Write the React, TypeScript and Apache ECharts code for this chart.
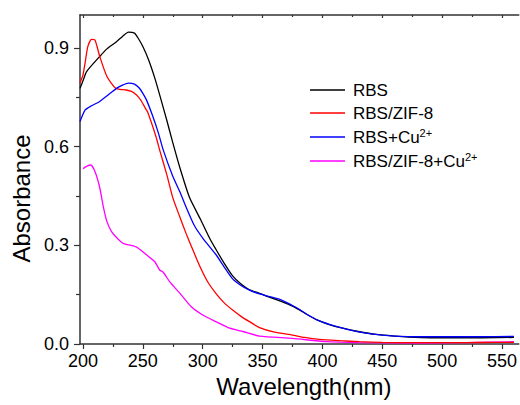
import React, { useEffect, useRef } from "react";
import * as echarts from "echarts";

// Wavelength (nm) / absorbance pairs
const rbsWl = [197.5, 200, 203, 214, 220, 228, 233, 238, 243, 246, 250, 255, 260, 265, 270, 275, 281, 289, 298, 306, 311, 318, 325, 332, 339, 347.5, 355, 365, 375, 381, 388, 395, 405, 417, 430, 445, 460, 472, 490, 510, 533, 560];
const rbsAbs = [0.777, 0.8, 0.828, 0.874, 0.897, 0.919, 0.935, 0.948, 0.945, 0.93, 0.904, 0.862, 0.808, 0.745, 0.68, 0.612, 0.535, 0.445, 0.38, 0.32, 0.288, 0.245, 0.207, 0.182, 0.165, 0.154, 0.143, 0.13, 0.115, 0.103, 0.088, 0.074, 0.06, 0.048, 0.038, 0.029, 0.024, 0.021, 0.019, 0.019, 0.019, 0.02];

const zifWl = [197.5, 200, 202, 204, 207, 210, 214, 220, 227, 231, 236, 240.5, 243, 246, 249, 252, 254, 261, 264, 270, 275, 281, 286, 290.5, 297.5, 304, 311, 318, 325, 332, 339, 347.5, 360, 375, 385, 397.5, 415, 431, 450, 480, 520, 545, 560];
const zifAbs = [0.793, 0.818, 0.86, 0.904, 0.926, 0.924, 0.874, 0.813, 0.778, 0.774, 0.772, 0.768, 0.762, 0.752, 0.737, 0.717, 0.705, 0.63, 0.59, 0.515, 0.445, 0.385, 0.337, 0.297, 0.237, 0.19, 0.154, 0.125, 0.103, 0.084, 0.068, 0.05, 0.036, 0.027, 0.02, 0.014, 0.01, 0.007, 0.005, 0.004, 0.004, 0.005, 0.005];

const cuWl = [197.5, 201.7, 207, 214, 221, 228, 233, 238, 243, 247, 250, 253, 258, 263, 267, 275, 281, 286, 293, 300, 311, 318, 325, 332, 339, 347.5, 355, 365, 375, 381, 388, 397.5, 410, 422.5, 435, 450, 465, 478, 506, 530, 560];
const cuAbs = [0.676, 0.711, 0.724, 0.737, 0.757, 0.777, 0.787, 0.793, 0.79, 0.778, 0.762, 0.742, 0.695, 0.641, 0.59, 0.51, 0.462, 0.417, 0.36, 0.322, 0.272, 0.234, 0.198, 0.178, 0.164, 0.152, 0.145, 0.135, 0.117, 0.105, 0.088, 0.07, 0.055, 0.043, 0.034, 0.027, 0.023, 0.022, 0.022, 0.022, 0.023];

const zifCuWl = [200, 203, 206.5, 210, 214, 217, 220, 224, 229, 234, 240, 245, 253, 260, 264, 267, 272.5, 281, 290.5, 300, 311, 322.5, 333.6, 347.5, 375, 403, 430, 480, 520, 560];
const zifCuAbs = [0.533, 0.54, 0.544, 0.524, 0.475, 0.417, 0.372, 0.341, 0.32, 0.305, 0.3, 0.294, 0.271, 0.25, 0.225, 0.218, 0.189, 0.154, 0.113, 0.088, 0.068, 0.048, 0.038, 0.024, 0.017, 0.007, 0.004, 0.003, 0.004, 0.007];

const seriesNames = ["RBS", "RBS/ZIF-8", "RBS+Cu2+", "RBS/ZIF-8+Cu2+"];
const seriesColors = ["#000000", "#ff0000", "#0000ff", "#ff00ff"];

const xMajorTicks = [200, 250, 300, 350, 400, 450, 500, 550];
const xMinorTicks = [225, 275, 325, 375, 425, 475, 525];
const yMajorTicks = [0, 0.3, 0.6, 0.9];
const yMinorTicks = [0.15, 0.45, 0.75];

const X_MIN = 197.5;
const X_MAX = 564;
const Y_MIN = 0;
const Y_MAX = 1.0;

const FONT = "'Liberation Sans', Arial, sans-serif";
const AXIS_COLOR = "#333";

const zip = (xs: number[], ys: number[]) => xs.map((x, i) => [x, ys[i]]);

export default function App() {
  const ref = useRef<HTMLDivElement>(null);

  useEffect(() => {
    if (!ref.current) return;
    const chart = echarts.init(ref.current, undefined, { renderer: "svg" });

    const axisLine = { show: true, lineStyle: { color: AXIS_COLOR, width: 1.5 } };
    const baseX = { type: "value", min: X_MIN, max: X_MAX, splitLine: { show: false } };
    const baseY = { type: "value", min: Y_MIN, max: Y_MAX, splitLine: { show: false } };

    const datas = [zip(rbsWl, rbsAbs), zip(zifWl, zifAbs), zip(cuWl, cuAbs), zip(zifCuWl, zifCuAbs)];
    // draw order: black, magenta, red, blue (blue over black, red over magenta)
    const order = [0, 3, 1, 2];

    chart.setOption({
      animation: false,
      grid: { left: 80, top: 15, right: 0, bottom: 61, containLabel: false },
      legend: {
        data: seriesNames,
        orient: "vertical",
        left: 310,
        top: 81,
        padding: 0,
        icon: "path://M0,0H35V1.4H0Z",
        itemWidth: 35,
        itemHeight: 14,
        itemGap: 5,
        formatter: (name: string) => name.replace("Cu2+", "Cu{sup|2+}"),
        textStyle: {
          fontFamily: FONT,
          fontSize: 17,
          color: "#000",
          lineHeight: 18,
          padding: [0, 0, 0, 3],
          rich: {
            sup: { fontFamily: FONT, fontSize: 11, color: "#000", padding: [0, 0, 9, 0] },
          },
        },
      },
      xAxis: [
        {
          ...baseX,
          position: "bottom",
          name: "Wavelength(nm)",
          nameLocation: "middle",
          nameGap: 30,
          nameTextStyle: { fontFamily: FONT, fontSize: 24, color: "#000", padding: [0, 0, 0, 9] },
          axisLine,
          axisTick: { show: true, inside: false, length: 5, customValues: xMajorTicks, lineStyle: { color: AXIS_COLOR, width: 1.2 } },
          axisLabel: { show: true, customValues: xMajorTicks, fontFamily: FONT, fontSize: 18, color: "#000", margin: 8 },
        },
        {
          ...baseX,
          position: "bottom",
          axisLine: { show: false },
          axisTick: { show: true, inside: false, length: 3, customValues: xMinorTicks, lineStyle: { color: AXIS_COLOR, width: 1.2 } },
          axisLabel: { show: false },
        },
        {
          ...baseX,
          position: "top",
          axisLine,
          axisTick: { show: true, inside: true, length: 3, customValues: xMajorTicks, lineStyle: { color: AXIS_COLOR, width: 1.2 } },
          axisLabel: { show: false },
        },
        {
          ...baseX,
          position: "top",
          axisLine: { show: false },
          axisTick: { show: true, inside: true, length: 2, customValues: xMinorTicks, lineStyle: { color: AXIS_COLOR, width: 1.2 } },
          axisLabel: { show: false },
        },
      ],
      yAxis: [
        {
          ...baseY,
          position: "left",
          name: "Absorbance",
          nameLocation: "middle",
          nameGap: 46,
          nameTextStyle: { fontFamily: FONT, fontSize: 24, color: "#000", padding: [0, 38, 0, 0] },
          axisLine,
          axisTick: { show: true, inside: false, length: 6, customValues: yMajorTicks, lineStyle: { color: AXIS_COLOR, width: 1.2 } },
          axisLabel: {
            show: true,
            customValues: yMajorTicks,
            formatter: (v: number) => v.toFixed(1),
            fontFamily: FONT,
            fontSize: 18,
            color: "#000",
            margin: 11,
          },
        },
        {
          ...baseY,
          position: "left",
          axisLine: { show: false },
          axisTick: { show: true, inside: false, length: 4, customValues: yMinorTicks, lineStyle: { color: AXIS_COLOR, width: 1.2 } },
          axisLabel: { show: false },
        },
      ],
      series: order.map((i) => ({
        name: seriesNames[i],
        type: "line",
        xAxisIndex: 0,
        yAxisIndex: 0,
        data: datas[i],
        showSymbol: false,
        symbol: "none",
        smooth: 0.2,
        lineStyle: { color: seriesColors[i], width: 1.3 },
        itemStyle: { color: seriesColors[i] },
        emphasis: { disabled: true },
      })),
    });

    return () => chart.dispose();
  }, []);

  return <div ref={ref} style={{ position: "absolute", left: 0, top: 0, width: 520, height: 405 }} />;
}
